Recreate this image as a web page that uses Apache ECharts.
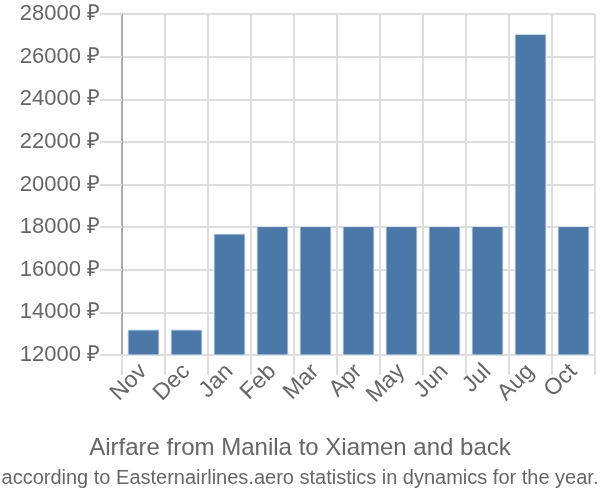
<!DOCTYPE html>
<html><head><meta charset="utf-8">
<script src="https://cdn.jsdelivr.net/npm/echarts@6/dist/echarts.min.js"></script>
<style>html,body{margin:0;padding:0;background:#fff}#c{width:600px;height:500px}</style>
</head><body><div id="c"></div>
<script>
const months = ["Nov","Dec","Jan","Feb","Mar","Apr","May","Jun","Jul","Aug","Oct"];
const prices = [13200,13200,17700,18050,18050,18050,18050,18050,18050,27070,18050];
const yTicks = [12000,14000,16000,18000,20000,22000,24000,26000,28000];
const titleText = "Airfare from Manila to Xiamen and back";
const subText = "according to Easternairlines.aero statistics in dynamics for the year.";

const chart = echarts.init(document.getElementById('c'), null, {renderer:'canvas'});
chart.setOption({
  animation:false,
  title:{text:titleText, subtext:subText, left:'center', top:431, itemGap:8,
    textStyle:{fontFamily:'Liberation Sans', fontSize:24, fontWeight:'normal', color:'#666'},
    subtextStyle:{fontFamily:'Liberation Sans', fontSize:20, color:'#666'}},
  grid:{left:122, right:5, top:14, bottom:145},
  xAxis:{type:'category', data:months, boundaryGap:true,
    axisLine:{lineStyle:{color:'#ddd', width:2}},
    axisTick:{show:true, length:20, lineStyle:{color:'#ddd', width:2}},
    splitLine:{show:true, lineStyle:{color:'#ddd', width:2}},
    axisLabel:{rotate:45, fontFamily:'Liberation Sans', fontSize:23, color:'#666', margin:13}},
  yAxis:{type:'value', min:yTicks[0], max:yTicks[yTicks.length-1], interval:2000,
    axisLine:{show:true, lineStyle:{color:'#aaa', width:2}},
    axisTick:{show:true, length:22, lineStyle:{color:'#ddd', width:2}},
    splitLine:{show:true, lineStyle:{color:'#ddd', width:2}},
    axisLabel:{formatter:v=>v+' ₽', fontFamily:'Liberation Sans', fontSize:22, color:'#666', margin:22}},
  series:[{type:'bar', data:prices, barWidth:32,
    itemStyle:{color:'#4c78a8', borderColor:'#dfe7f0', borderWidth:1}}]
});
</script></body></html>
